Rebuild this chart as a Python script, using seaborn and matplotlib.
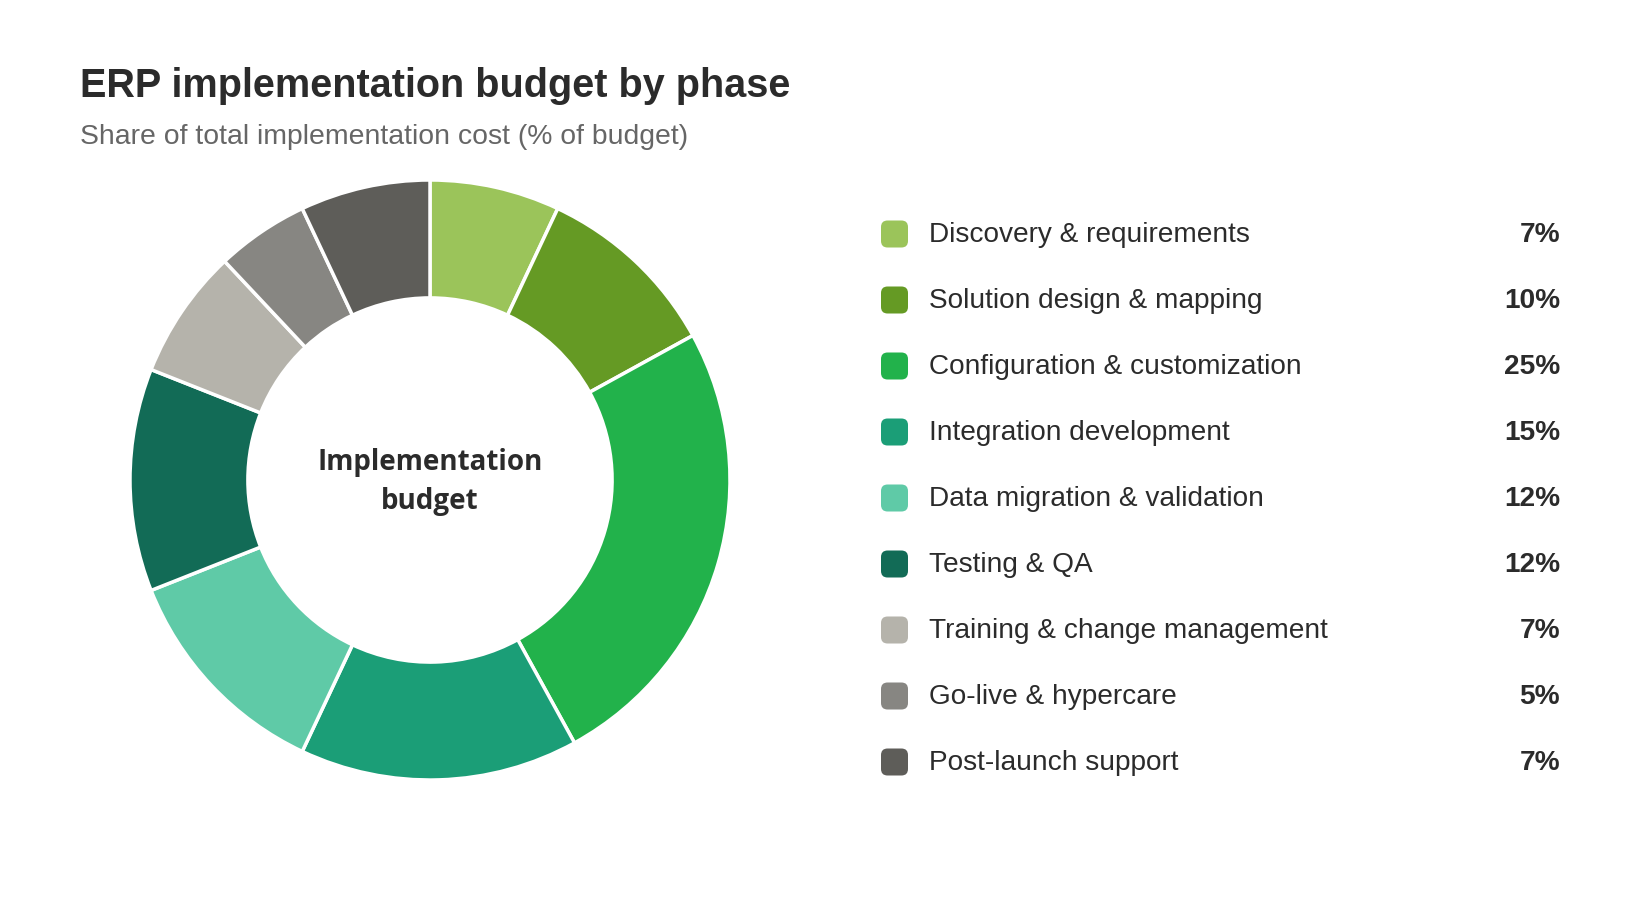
import matplotlib
matplotlib.use("Agg")
import matplotlib.pyplot as plt
from matplotlib.patches import FancyBboxPatch
import seaborn as sns

phases = ["Discovery & requirements", "Solution design & mapping", "Configuration & customization",
          "Integration development", "Data migration & validation", "Testing & QA",
          "Training & change management", "Go-live & hypercare", "Post-launch support"]
shares = [7, 10, 25, 15, 12, 12, 7, 5, 7]
colors = ["#9BC45A", "#659A24", "#22B24B", "#1B9E77", "#5FCAA7", "#126B56",
          "#B5B3AB", "#878682", "#5E5D59"]

sns.set_theme(style="white")
plt.rcParams['font.family'] = ['Liberation Sans', 'DejaVu Sans']

W, H = 1640, 920
fig = plt.figure(figsize=(W / 100, H / 100), dpi=100)
fig.patch.set_facecolor("white")

# donut
cx, cy, r = 430, 481, 303
ax = fig.add_axes([(cx - r) / W, (H - cy - r) / H, 2 * r / W, 2 * r / H])
ax.pie(shares, colors=colors, startangle=90, counterclock=False, radius=1,
       wedgeprops=dict(width=0.393, edgecolor="white", linewidth=2.5))
ax.set_xlim(-1.01, 1.01)
ax.set_ylim(-1.01, 1.01)
ax.set_aspect("equal")
ax.axis("off")
ax.text(0, -0.004, "Implementation\nbudget", ha="center", va="center", fontsize=20,
        fontweight="bold", color="#2b2b2b", linespacing=1.45,
        family=['Open Sans', 'DejaVu Sans'])

# titles
fig.text(80 / W, 1 - 86 / H, "ERP implementation budget by phase", fontsize=28.5,
         fontweight="bold", color="#2b2b2b", va="center", ha="left")
fig.text(80 / W, 1 - 137 / H, "Share of total implementation cost (% of budget)", fontsize=20.4,
         color="#666666", va="center", ha="left")

# legend
y0, step = 235, 66
sw = 27
for i, (name, val, col) in enumerate(zip(phases, shares, colors)):
    y = y0 + step * i
    fig.patches.append(FancyBboxPatch((881 / W, 1 - (y + sw / 2) / H), sw / W, sw / H,
                                      boxstyle="round,pad=0,rounding_size=0.004",
                                      transform=fig.transFigure, facecolor=col, edgecolor="none",
                                      mutation_aspect=W / H))
    fig.text(929 / W, 1 - y / H, name, fontsize=20.2, color="#2b2b2b", va="center", ha="left")
    fig.text(1560 / W, 1 - y / H, f"{val}%", fontsize=20.2, fontweight="bold", color="#2b2b2b",
             va="center", ha="right")

fig.savefig("out.png", dpi=100, facecolor="white")
